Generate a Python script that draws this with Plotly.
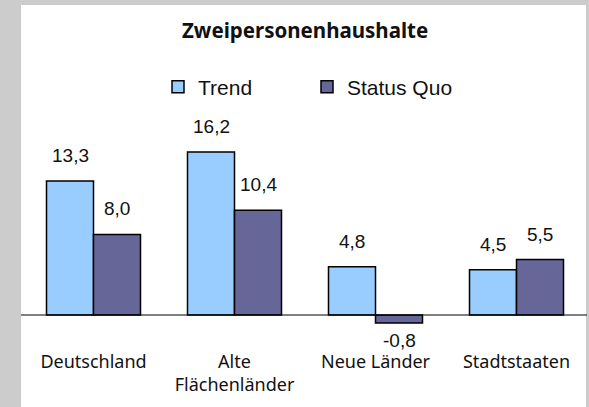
import plotly.graph_objects as go

categories = ["Deutschland", "Alte<br>Flächenländer", "Neue Länder", "Stadtstaaten"]
trend = [13.3, 16.2, 4.8, 4.5]
status_quo = [8.0, 10.4, -0.8, 5.5]
trend_labels = ["13,3", "16,2", "4,8", "4,5"]
sq_labels = ["8,0", "10,4", "-0,8", "5,5"]

W, H = 589, 407
ml, mr, mt, mb = 23, 2, 140, 77
pw, ph = W - ml - mr, H - mt - mb

def px_x(px):
    return (px - ml) / pw

def px_y(py):
    return (H - mb - py) / ph

fig = go.Figure()
fig.add_trace(go.Bar(name="Trend", x=categories, y=trend,
                     marker=dict(color="#99CCFF", line=dict(color="black", width=1.5))))
fig.add_trace(go.Bar(name="Status Quo", x=categories, y=status_quo,
                     marker=dict(color="#666699", line=dict(color="black", width=1.5))))

anns = []
for i in range(len(categories)):
    for vals, labs, xo in ((trend, trend_labels, -1/6), (status_quo, sq_labels, 1/6)):
        v = vals[i]
        anns.append(dict(x=i + xo, y=v, xref="x", yref="y", text=labs[i], showarrow=False,
                         yanchor="bottom" if v >= 0 else "top",
                         yshift=13 if v >= 0 else -5,
                         font=dict(family="Liberation Sans, Arial", size=19, color="#111")))
anns.append(dict(x=px_x(305), y=px_y(30), xref="paper", yref="paper", text="<b>Zweipersonenhaushalte</b>",
                 xanchor="center", yanchor="middle",
                 showarrow=False, font=dict(family="Noto Sans", size=20.5, color="#111")))

fig.update_layout(
    template="none",
    width=W, height=H,
    margin=dict(l=ml, r=mr, t=mt, b=mb, autoexpand=False),
    paper_bgcolor="#cccccc",
    plot_bgcolor="rgba(0,0,0,0)",
    bargap=1/3, bargroupgap=0,
    annotations=anns,
    showlegend=True,
    shapes=[
        dict(type="rect", xref="paper", yref="paper", x0=px_x(21), x1=px_x(586), y0=px_y(5), y1=px_y(410),
             fillcolor="white", line=dict(width=0), layer="below"),
        dict(type="line", xref="paper", yref="y", x0=px_x(21), x1=px_x(587), y0=0, y1=0,
             line=dict(color="black", width=1), layer="above"),
    ],
    legend=dict(orientation="h", x=px_x(158), xanchor="left", y=px_y(87), yanchor="middle",
                font=dict(family="Liberation Sans, Arial", size=21, color="#111"),
                bgcolor="rgba(0,0,0,0)", itemwidth=30, traceorder="normal",
                entrywidth=104, entrywidthmode="pixels"),
    xaxis=dict(tickfont=dict(family="Noto Sans", size=18, color="#111"), automargin=False,
               showline=False, showgrid=False, zeroline=False, ticks="", ticklabelstandoff=19,
               range=[-0.5, 3.5]),
    yaxis=dict(range=[-1.49, 17.38], visible=False, showgrid=False, zeroline=False, automargin=False),
)

fig.write_html("out.html", config={"displayModeBar": False},
               post_script="document.body.style.margin='0';document.body.style.padding='0';")
